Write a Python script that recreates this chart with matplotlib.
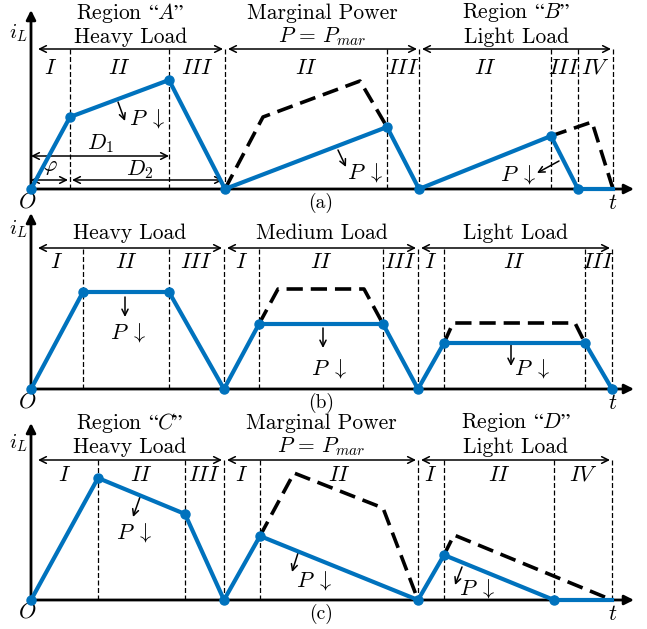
import matplotlib
matplotlib.use("Agg")
import matplotlib.pyplot as plt

plt.rcParams['font.family'] = ['cmr10', 'DejaVu Serif']
plt.rcParams['mathtext.fontset'] = 'cm'

BLUE = '#0072BD'

# (a) region A / marginal power / region B
a_t = [0, 39, 138, 194, 356, 388, 520, 547, 582]
a_i = [0, 72, 109, 0, 62, 0, 53, 0, 0]
a_ref = [([194, 232, 329, 356], [0, 72, 108, 62]),
         ([520, 561, 582], [53, 67, 0])]
a_bounds = [39, 138, 194, 356, 388, 520, 547, 582]
a_phases = ['I', 'II', 'III', 'II', 'III', 'II', 'III', 'IV']
a_edges = [0, 194, 388, 582]
a_titles = [("Region $“A”$", "Heavy Load"),
            ("Marginal Power", r"$P\,=\,P_{mar}$"),
            ("Region $“B”$", "Light Load")]

# (b) heavy / medium / light load
b_t = [0, 52, 138, 193, 228, 352, 387, 413, 554, 581]
b_i = [0, 97, 97, 0, 65, 65, 0, 46, 46, 0]
b_ref = [([228, 247, 333, 352], [65, 100, 100, 65]),
         ([413, 422, 544, 554], [46, 66, 66, 46])]
b_bounds = [52, 138, 193, 228, 352, 387, 413, 554, 581]
b_phases = ['I', 'II', 'III', 'I', 'II', 'III', 'I', 'II', 'III']
b_edges = [0, 193, 387, 581]
b_titles = [("Heavy Load",), ("Medium Load",), ("Light Load",)]

# (c) region C / marginal power / region D
c_t = [0, 67, 154, 193, 229, 387, 413, 523, 581]
c_i = [0, 122, 86, 0, 64, 0, 45, 0, 0]
c_ref = [([229, 263, 352, 387], [64, 127, 92, 0]),
         ([413, 423, 581], [45, 65, 0])]
c_bounds = [67, 154, 193, 229, 387, 413, 523, 581]
c_phases = ['I', 'II', 'III', 'I', 'II', 'I', 'II', 'IV']
c_edges = [0, 193, 387, 581]
c_titles = [("Region $“C”$", "Heavy Load"),
            ("Marginal Power", r"$P\,=\,P_{mar}$"),
            ("Region $“D”$", "Light Load")]

W, H = 647, 629
fig = plt.figure(figsize=(W / 100, H / 100), dpi=100)


def make_ax(top, bottom, base):
    ax = fig.add_axes([0, (H - bottom) / H, 1, (bottom - top) / H])
    ax.set_xlim(-31, W - 31)
    ax.set_ylim(-(bottom - base), base - top)
    ax.axis('off')
    return ax


def p_arrow(ax, start, end, txt):
    ax.annotate('', xy=end, xytext=start,
                arrowprops=dict(arrowstyle='->', lw=1.1, color='k',
                                mutation_scale=11, shrinkA=0, shrinkB=0))
    ax.text(txt[0], txt[1], r'$P\;\downarrow$', fontsize=16,
            ha='center', va='center')


def panel(ax, t, i, ref, bounds, phases, edges, titles, tag, dots,
          axis_top, line_y, title_y, phase_y):
    # axes with arrow heads
    ax.annotate('', xy=(0, axis_top), xytext=(0, -1),
                arrowprops=dict(arrowstyle='-|>', lw=2, color='k',
                                mutation_scale=14, shrinkA=0, shrinkB=0))
    ax.annotate('', xy=(603, 0), xytext=(-1, 0),
                arrowprops=dict(arrowstyle='-|>', lw=2, color='k',
                                mutation_scale=14, shrinkA=0, shrinkB=0))
    ax.text(-13, title_y[-1] + 4, '$i_L$', fontsize=15, ha='center', va='center')
    ax.text(-4, -12, '$O$', fontsize=16, ha='center', va='center')
    ax.text(582, -14, '$t$', fontsize=16, ha='center', va='center')
    ax.text(290, -14, tag, fontsize=14, ha='center', va='center')

    # phase boundaries
    ax.vlines(bounds, 0, line_y, colors='k', lw=0.9, linestyles=(0, (4, 2)))

    # region arrows and headings
    for k in range(3):
        x0 = edges[k] + (7 if k == 0 else 3)
        x1 = edges[k + 1] - 2
        ax.annotate('', xy=(x1, line_y), xytext=(x0, line_y),
                    arrowprops=dict(arrowstyle='<->', lw=1.1, color='k',
                                    mutation_scale=12, shrinkA=0, shrinkB=0))
        xc = (x0 + x1) / 2
        for line, y in zip(titles[k], title_y[-len(titles[k]):]):
            ax.text(xc, y, line, fontsize=15.5, ha='center', va='center')

    # phase names centred between boundaries
    xs = [0] + bounds
    for k, name in enumerate(phases):
        ax.text((xs[k] + xs[k + 1]) / 2, phase_y, '$' + name + '$',
                fontsize=16, ha='center', va='center')

    # reference (higher power) waveforms
    for rt, ri in ref:
        ax.plot(rt, ri, color='k', lw=2.6, dashes=(4.5, 2.2), zorder=3)

    # inductor current
    ax.plot(t, i, color=BLUE, lw=3, zorder=4, solid_joinstyle='round',
            marker='o', ms=6.5, markevery=dots)


ax_a = make_ax(0, 210, 189)
panel(ax_a, a_t, a_i, a_ref, a_bounds, a_phases, a_edges, a_titles, '(a)',
      slice(0, 8), 179, 140, [176, 152], 121)
p_arrow(ax_a, (87, 87), (94, 68), (116, 71))
p_arrow(ax_a, (307, 39), (315, 22), (334, 16))
p_arrow(ax_a, (528, 28), (506, 16), (487, 14))
# duty-cycle and phase-shift spans
for (x0, x1, y) in [(0, 138, 33), (41, 192, 9), (0, 37, 9)]:
    ax_a.annotate('', xy=(x1, y), xytext=(x0, y),
                  arrowprops=dict(arrowstyle='<->', lw=1.1, color='k',
                                  mutation_scale=12, shrinkA=0, shrinkB=0))
ax_a.text(69, 45, '$D_1$', fontsize=16, ha='center', va='center')
ax_a.text(109, 19, '$D_2$', fontsize=16, ha='center', va='center')
ax_a.text(19, 22, r'$\varphi$', fontsize=16, ha='center', va='center')

ax_b = make_ax(210, 420, 389)
panel(ax_b, b_t, b_i, b_ref, b_bounds, b_phases, b_edges, b_titles, '(b)',
      slice(0, 10), 176, 141, [156], 127)
p_arrow(ax_b, (94, 92), (94, 72), (97, 56))
p_arrow(ax_b, (292, 61), (292, 41), (298, 21))
p_arrow(ax_b, (480, 44), (480, 23), (501, 21))

ax_c = make_ax(420, 629, 600)
panel(ax_c, c_t, c_i, c_ref, c_bounds, c_phases, c_edges, c_titles, '(c)',
      slice(0, 8), 177, 140, [177, 153], 125)
p_arrow(ax_c, (109, 103), (102, 83), (103, 67))
p_arrow(ax_c, (267, 47), (261, 28), (283, 20))
p_arrow(ax_c, (431, 33), (424, 15), (446, 12))

fig.savefig('out.png', dpi=100)
